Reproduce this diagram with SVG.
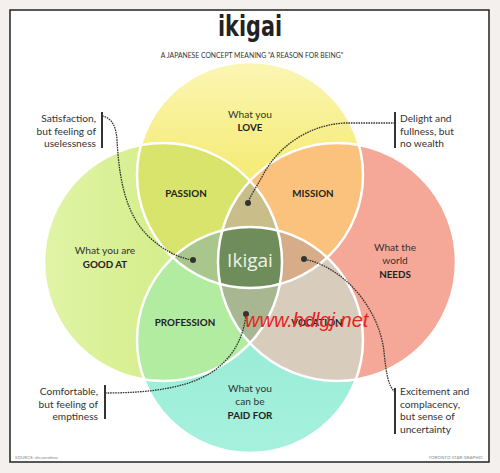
<svg xmlns="http://www.w3.org/2000/svg" width="500" height="473" viewBox="0 0 500 473">
<defs>
<style>
.t{font-family:Lato,"Open Sans","Liberation Sans",sans-serif;fill:#333;font-size:10.2px}
.b{font-weight:bold;font-size:9.8px;fill:#222}
.m{text-anchor:middle}
.e{text-anchor:end}
.lead{fill:none;stroke:#333;stroke-width:1.3;stroke-dasharray:1.6 0.9}
.bar{stroke:#333;stroke-width:2}
.dot{fill:#333}
.ring{fill:none;stroke:#fff;stroke-width:2.5}
</style>
<linearGradient id="gT" x1="0" y1="0" x2="0" y2="1"><stop offset="0" stop-color="#fbf6b4"/><stop offset="0.45" stop-color="#f6ec7c"/><stop offset="1" stop-color="#f3e86c"/></linearGradient>
<linearGradient id="gL" x1="0" y1="0" x2="1" y2="0"><stop offset="0" stop-color="#e0f4a6"/><stop offset="0.5" stop-color="#d5ee8c"/><stop offset="1" stop-color="#d0ec84"/></linearGradient>
<linearGradient id="gB" x1="0" y1="1" x2="0" y2="0"><stop offset="0" stop-color="#a6f1de"/><stop offset="1" stop-color="#8ce8cf"/></linearGradient>
<clipPath id="cT"><circle cx="250" cy="175" r="113"/></clipPath>
<clipPath id="cL"><circle cx="163" cy="262" r="119"/></clipPath>
<clipPath id="cR"><circle cx="337" cy="262" r="119"/></clipPath>
<clipPath id="cB"><circle cx="250" cy="340" r="113"/></clipPath>
</defs>
<rect width="500" height="473" fill="#f3f0ee"/>
<rect x="10" y="10" width="479" height="452" fill="#fff" stroke="#222" stroke-width="1.5"/>
<g id="title">
<text x="250" y="36" class="m" style="font-family:'DejaVu Sans Condensed','Liberation Sans',sans-serif;font-weight:bold;font-size:28px;fill:#222" textLength="64" lengthAdjust="spacingAndGlyphs">ikigai</text>
<text x="252" y="58" class="t m" style="font-size:6.8px">A JAPANESE CONCEPT MEANING "A REASON FOR BEING"</text>
</g>
<g id="circles">
<circle id="love" cx="250" cy="175" r="113" fill="url(#gT)"/>
<circle id="goodat" cx="163" cy="262" r="119" fill="url(#gL)"/>
<circle id="needs" cx="337" cy="262" r="119" fill="#f6a898"/>
<circle id="paidfor" cx="250" cy="340" r="113" fill="url(#gB)"/>
<g id="passion" clip-path="url(#cL)"><circle cx="250" cy="175" r="113" fill="#d8e46c"/></g>
<g id="mission" clip-path="url(#cR)"><circle cx="250" cy="175" r="113" fill="#fac27c"/></g>
<g id="profession" clip-path="url(#cB)"><circle cx="163" cy="262" r="119" fill="#b2eca0"/></g>
<g id="vocation" clip-path="url(#cB)"><circle cx="337" cy="262" r="119" fill="#d8ccbd"/></g>
<g clip-path="url(#cR)"><g clip-path="url(#cL)"><circle cx="250" cy="175" r="113" fill="#c9bd8a"/></g></g>
<g clip-path="url(#cB)"><g clip-path="url(#cL)"><circle cx="250" cy="175" r="113" fill="#a9c78c"/></g></g>
<g clip-path="url(#cB)"><g clip-path="url(#cR)"><circle cx="250" cy="175" r="113" fill="#d6ad88"/></g></g>
<g clip-path="url(#cB)"><g clip-path="url(#cR)"><circle cx="163" cy="262" r="119" fill="#a9b692"/></g></g>
<g id="ikigai-core" clip-path="url(#cB)"><g clip-path="url(#cR)"><g clip-path="url(#cL)"><circle cx="250" cy="175" r="113" fill="#6e8d5a"/></g></g></g>
<circle class="ring" cx="250" cy="175" r="113"/>
<circle class="ring" cx="163" cy="262" r="119"/>
<circle class="ring" cx="337" cy="262" r="119"/>
<circle class="ring" cx="250" cy="340" r="113"/>
</g>
<g id="labels">
<text class="t m" x="250" y="118">What you</text>
<text class="t m b" x="250" y="131">LOVE</text>
<text class="t m" x="105" y="254">What you are</text>
<text class="t m b" x="105" y="268">GOOD AT</text>
<text class="t m" x="395" y="251">What the</text>
<text class="t m" x="395" y="264">world</text>
<text class="t m b" x="395" y="278">NEEDS</text>
<text class="t m" x="250" y="392">What you</text>
<text class="t m" x="250" y="405">can be</text>
<text class="t m b" x="250" y="419">PAID FOR</text>
<text class="t m b" x="186" y="197">PASSION</text>
<text class="t m b" x="313" y="197">MISSION</text>
<text class="t m b" x="185" y="326">PROFESSION</text>
<text class="t m b" x="317" y="326">VOCATION</text>
<text class="m" x="250" y="267" style="font-family:'Open Sans','Liberation Sans',sans-serif;font-size:19px;fill:#eef3e6">Ikigai</text>
</g>
<g id="connectors">
<line class="bar" x1="102" y1="112" x2="102" y2="148"/>
<path class="lead" d="M102,116 C112,118 116,126 117,140 C119,175 124,212 148,236 C163,250 178,258 193,260"/>
<circle class="dot" cx="193" cy="260" r="3"/>
<line class="bar" x1="395" y1="112" x2="395" y2="148"/>
<path class="lead" d="M395,123 L345,123 C305,125 276,150 263,175 C256,188 250,196 248,203"/>
<circle class="dot" cx="248" cy="203" r="3"/>
<line class="bar" x1="105" y1="385" x2="105" y2="419"/>
<path class="lead" d="M105,393 C150,393 190,388 215,370 C235,355 244,335 246,314"/>
<circle class="dot" cx="246" cy="314" r="3"/>
<line class="bar" x1="395" y1="388" x2="395" y2="434"/>
<path class="lead" d="M395,392 C388,386 386,372 384,352 C380,312 347,268 304,259"/>
<circle class="dot" cx="304" cy="259" r="3"/>
</g>
<g id="notes">
<text class="t e" x="96" y="122">Satisfaction,</text>
<text class="t e" x="96" y="134.5">but feeling of</text>
<text class="t e" x="96" y="147">uselessness</text>
<text class="t" x="400" y="122">Delight and</text>
<text class="t" x="400" y="134.5">fullness, but</text>
<text class="t" x="400" y="147">no wealth</text>
<text class="t e" x="98" y="395">Comfortable,</text>
<text class="t e" x="98" y="407.5">but feeling of</text>
<text class="t e" x="98" y="420">emptiness</text>
<text class="t" x="400" y="395">Excitement and</text>
<text class="t" x="400" y="407.5">complacency,</text>
<text class="t" x="400" y="420">but sense of</text>
<text class="t" x="400" y="432.5">uncertainty</text>
<text class="t" x="15" y="459" style="font-size:4.5px;fill:#888">SOURCE: dreamstime</text>
<text class="t e" x="483" y="459" style="font-size:4.5px;fill:#888">TORONTO STAR GRAPHIC</text>
</g>
<text x="245" y="327" style="font-family:'Liberation Sans',sans-serif;font-style:italic;font-size:20px;fill:#e8231d">www.hdlgj.net</text>
</svg>
